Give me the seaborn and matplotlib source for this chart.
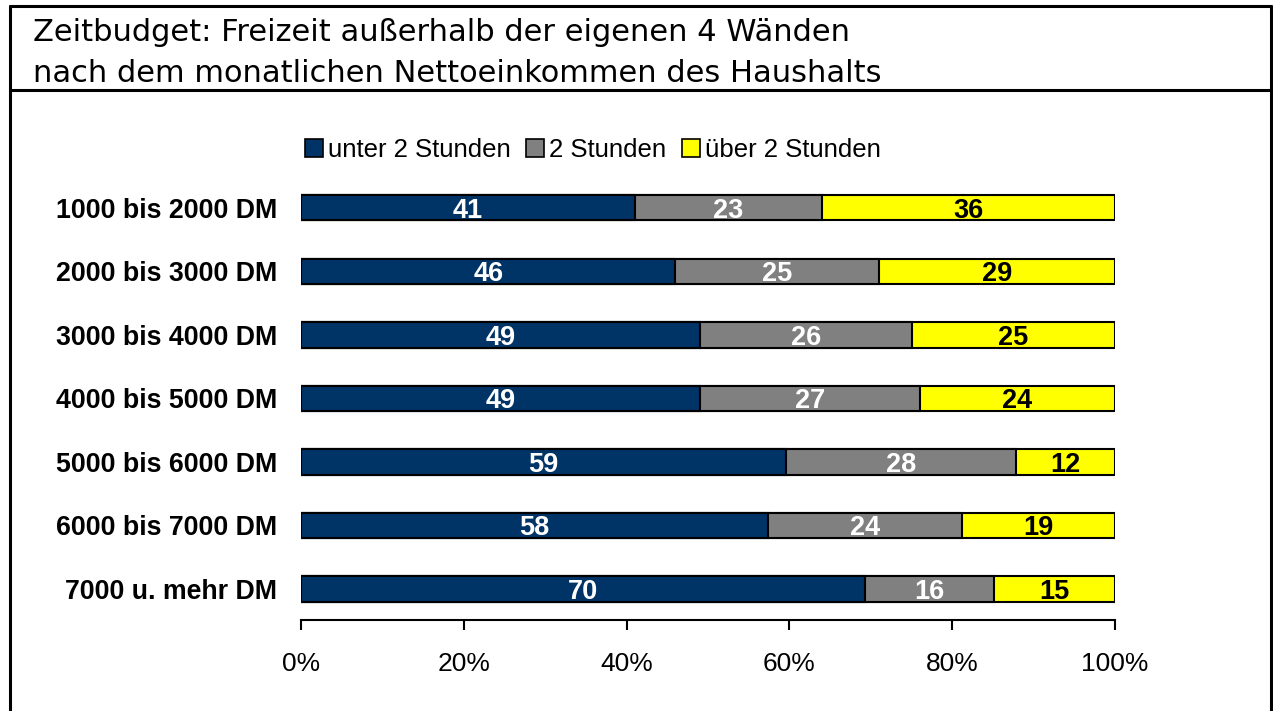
import numpy as np
import pandas as pd
import matplotlib
matplotlib.use("Agg")
import matplotlib.pyplot as plt
import seaborn as sns
from matplotlib.patches import Patch
from matplotlib.lines import Line2D

categories = ["1000 bis 2000 DM", "2000 bis 3000 DM", "3000 bis 4000 DM",
              "4000 bis 5000 DM", "5000 bis 6000 DM", "6000 bis 7000 DM",
              "7000 u. mehr DM"]
unter2 = [41, 46, 49, 49, 59, 58, 70]
genau2 = [23, 25, 26, 27, 28, 24, 16]
ueber2 = [36, 29, 25, 24, 12, 19, 15]
series_names = ["unter 2 Stunden", "2 Stunden", "über 2 Stunden"]
colors = ["#003366", "#808080", "#FFFF00"]
label_colors = ["white", "white", "black"]
xticks = [0, 20, 40, 60, 80, 100]
title = "Zeitbudget: Freizeit außerhalb der eigenen 4 Wänden\nnach dem monatlichen Nettoeinkommen des Haushalts"

sns.set_theme(style="white")
plt.rcParams['font.family'] = ['Liberation Sans', 'DejaVu Sans']
plt.rcParams['text.color'] = 'black'
plt.rcParams['xtick.color'] = 'black'
plt.rcParams['ytick.color'] = 'black'
plt.rcParams['axes.labelcolor'] = 'black'

df = pd.DataFrame({"cat": categories, "u": unter2, "g": genau2, "o": ueber2})
tot = df[["u", "g", "o"]].sum(axis=1)
pu = df["u"] / tot * 100
pg = df["g"] / tot * 100
po = df["o"] / tot * 100
df["c1"] = pu
df["c2"] = pu + pg
df["c3"] = pu + pg + po

W, H = 1273, 711
fig = plt.figure(figsize=(W / 100, H / 100), dpi=100)
ax = fig.add_axes([301 / W, 1 - 620 / H, (1115 - 301) / W, (620 - 176) / H])

bh = 0.40
for col, c in zip(["c3", "c2", "c1"], colors[::-1]):
    sns.barplot(data=df, x=col, y="cat", color=c, orient="h", width=bh,
                edgecolor="black", linewidth=1.5, ax=ax, saturation=1)

lefts = [np.zeros(len(df)), df["c1"].values, df["c2"].values]
rights = [df["c1"].values, df["c2"].values, df["c3"].values]
vals = [unter2, genau2, ueber2]
for s in range(3):
    for i in range(len(df)):
        ax.text((lefts[s][i] + rights[s][i]) / 2, i, str(vals[s][i]),
                ha="center", va="center_baseline", color=label_colors[s],
                fontsize=19.5, fontweight="bold")

ax.set_xlim(0, 100)
ax.set_ylim(6.49, -0.5)
ax.set_xlabel("")
ax.set_ylabel("")
ax.set_xticks(xticks)
ax.set_xticklabels([f"{t}%" for t in xticks], fontsize=19)
ax.tick_params(axis="x", direction="out", length=7, width=1.5, color="black",
               labelcolor="black", pad=16, bottom=True)
ax.tick_params(axis="y", length=0, pad=17, labelcolor="black")
for lab in ax.get_yticklabels():
    lab.set_fontsize(19.3)
    lab.set_fontweight("bold")
for sp in ["top", "right", "left"]:
    ax.spines[sp].set_visible(False)
ax.spines["bottom"].set_color("black")
ax.spines["bottom"].set_linewidth(1.5)

handles = [Patch(facecolor=c, edgecolor="black", linewidth=1.2) for c in colors]
leg = fig.legend(handles, series_names, loc="center", bbox_to_anchor=(593 / W, 1 - 150 / H),
                 ncol=3, frameon=False, fontsize=18.5, handlelength=0.7, handleheight=0.7,
                 handletextpad=0.2, columnspacing=0.6, borderpad=0)
for t in leg.get_texts():
    t.set_color("black")

# frame and title box
lw = 2.2
tf = fig.transFigure
fig.add_artist(Line2D([10 / W, 10 / W], [0, 1 - 6 / H], color="black", lw=lw, transform=tf))
fig.add_artist(Line2D([1271 / W, 1271 / W], [0, 1 - 6 / H], color="black", lw=lw, transform=tf))
fig.add_artist(Line2D([10 / W, 1271 / W], [1 - 6 / H, 1 - 6 / H], color="black", lw=lw, transform=tf))
fig.add_artist(Line2D([10 / W, 1271 / W], [1 - 90 / H, 1 - 90 / H], color="black", lw=lw, transform=tf))
fig.text(33 / W, 1 - 53 / H, title, ha="left", va="center", fontsize=22,
         family=["DejaVu Sans"], linespacing=1.5, color="black")

fig.savefig("out.png", dpi=100, facecolor="white")
